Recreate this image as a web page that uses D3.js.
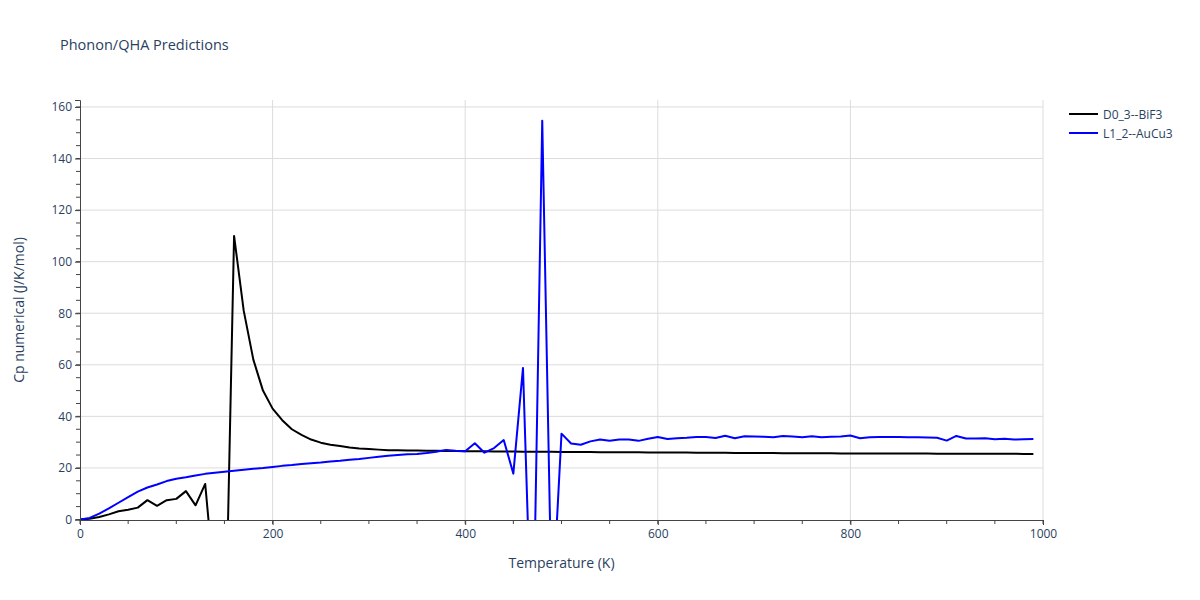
<!DOCTYPE html>
<html><head><meta charset="utf-8">
<script src="https://cdn.jsdelivr.net/npm/d3@7"></script>
<style>body{margin:0;background:#fff;} text{font-family:"Open Sans","DejaVu Sans",sans-serif;}</style>
</head><body><svg id="c" width="1200" height="600"></svg>
<script>
const temps = d3.range(0, 1000, 10);
const seriesNames = ["D0_3--BiF3", "L1_2--AuCu3"];
const seriesColors = ["#000000", "#0000ff"];
const bif3 = [0,0.3,1.0,2.0,3.2,3.8,4.6,7.5,5.3,7.5,8.0,11.0,5.5,13.8,-27,-66,110,81,62,50,
43,38.5,35,32.8,31,29.8,29,28.5,27.9,27.5,27.3,27.1,26.9,26.85,26.8,26.75,26.7,26.65,26.6,26.55,
26.5,26.47,26.44,26.41,26.38,26.35,26.32,26.29,26.26,26.23,26.2,26.18,26.16,26.14,26.12,26.1,26.08,26.06,26.04,26.02,
26.0,25.98,25.96,25.94,25.92,25.9,25.88,25.86,25.84,25.82,25.8,25.78,25.76,25.74,25.72,25.7,25.68,25.66,25.65,25.64,
25.63,25.62,25.61,25.6,25.59,25.58,25.57,25.56,25.55,25.54,25.53,25.52,25.51,25.5,25.49,25.48,25.47,25.46,25.45,25.44];
const aucu3 = [0,0.6,2.3,4.3,6.5,8.7,10.8,12.4,13.6,14.9,15.8,16.4,17.1,17.7,18.1,18.5,18.9,19.3,19.7,20.0,
20.4,20.8,21.1,21.5,21.8,22.1,22.5,22.8,23.2,23.5,23.9,24.3,24.7,25.0,25.3,25.4,25.8,26.3,27.0,26.7,
26.5,29.6,25.9,27.7,30.8,17.8,58.8,-60,154.7,-38,33.3,29.5,29.0,30.3,31.0,30.5,31.0,31.0,30.5,31.3,
32.0,31.2,31.5,31.7,32.0,32.0,31.6,32.5,31.5,32.3,32.2,32.1,31.9,32.4,32.2,31.9,32.3,31.9,32.1,32.2,
32.6,31.5,31.9,32.0,32.0,32.0,31.9,31.9,31.8,31.7,30.6,32.4,31.4,31.4,31.5,31.1,31.3,31.0,31.1,31.2];
const xTicks = [0,200,400,600,800,1000];
const yTicks = [0,20,40,60,80,100,120,140,160];

const svg = d3.select("#c");
const L=80, R=1043, T=100, B=520;
const x = d3.scaleLinear().domain([0,1000]).range([L,R]);
const y = d3.scaleLinear().domain([0,162.7]).range([519.5,T]);
const txt = "#2a3f5f";

svg.append("g").selectAll("line").data(yTicks.filter(d=>d>0)).join("line")
  .attr("x1",L).attr("x2",R).attr("y1",d=>y(d)).attr("y2",d=>y(d)).attr("stroke","#dcdcdc").attr("stroke-width",1);
svg.append("g").selectAll("line").data(xTicks.filter(d=>d>0)).join("line")
  .attr("x1",d=>x(d)).attr("x2",d=>x(d)).attr("y1",T).attr("y2",B).attr("stroke","#dcdcdc").attr("stroke-width",1);

svg.append("clipPath").attr("id","clip").append("rect").attr("x",L).attr("y",T).attr("width",R-L).attr("height",B-T);
const line = d3.line().x((d,i)=>x(temps[i])).y(d=>y(d));
[bif3, aucu3].forEach((s,k)=>{
  svg.append("path").datum(s).attr("d",line).attr("fill","none").attr("stroke",seriesColors[k])
    .attr("stroke-width",2).attr("stroke-linejoin","round").attr("clip-path","url(#clip)");
});

const xAxis = d3.axisBottom(x).tickValues(xTicks).tickFormat(d3.format("d")).tickSize(5).tickPadding(4);
const gx = svg.append("g").attr("transform",`translate(0,${B})`).call(xAxis);
const gy = svg.append("g").attr("transform",`translate(${L},0)`).call(d3.axisLeft(y).tickValues(yTicks).tickFormat(d3.format("d")).tickSize(5).tickPadding(3));
svg.append("g").selectAll("line").data(d3.range(0,1001,50)).join("line")
  .attr("x1",d=>x(d)).attr("x2",d=>x(d)).attr("y1",B).attr("y2",B+4).attr("stroke","#444");
svg.append("g").selectAll("line").data(d3.range(0,161,5)).join("line")
  .attr("x1",L-4).attr("x2",L).attr("y1",d=>y(d)).attr("y2",d=>y(d)).attr("stroke","#444");
[gx,gy].forEach(g=>{
  g.select(".domain").attr("stroke","#444").attr("stroke-width",1);
  g.selectAll(".tick line").attr("stroke","#444");
  g.selectAll(".tick text").attr("fill",txt).attr("font-size",12).style("font-family","'Open Sans',sans-serif");
});

svg.append("text").attr("x",60).attr("y",50).attr("fill",txt).attr("font-size",14.5).text("Phonon/QHA Predictions");
svg.append("text").attr("x",(L+R)/2).attr("y",568).attr("text-anchor","middle").attr("fill",txt).attr("font-size",14).text("Temperature (K)");
svg.append("text").attr("transform",`translate(24,${(T+B)/2}) rotate(-90)`).attr("text-anchor","middle").attr("fill",txt).attr("font-size",14).text("Cp numerical (J/K/mol)");

const lg = svg.append("g");
seriesNames.forEach((n,i)=>{
  const yy = 114 + i*19;
  lg.append("line").attr("x1",1069).attr("x2",1098).attr("y1",yy).attr("y2",yy).attr("stroke",seriesColors[i]).attr("stroke-width",2);
  lg.append("text").attr("x",1103).attr("y",yy+4.5).attr("fill",txt).attr("font-size",12).text(n);
});
</script></body></html>
